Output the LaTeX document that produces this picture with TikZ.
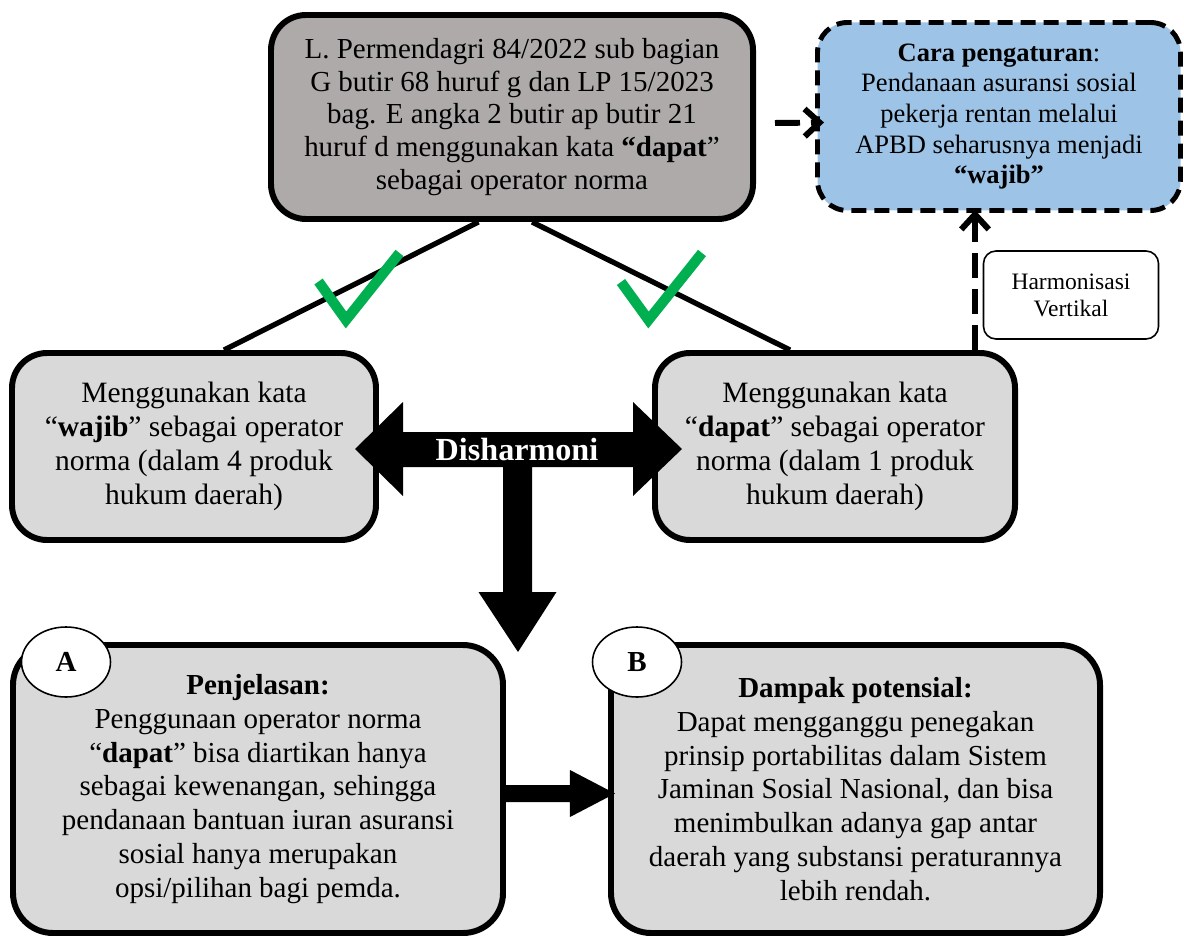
\documentclass[tikz,border=0pt]{standalone}
\usepackage{fontspec}
\setmainfont{Liberation Serif}
\usepackage{tikz}
\usetikzlibrary{positioning, arrows.meta, shapes.geometric}
\definecolor{normgray}{HTML}{AEAAAA}
\definecolor{boxgray}{HTML}{D9D9D9}
\definecolor{carablue}{HTML}{9DC3E6}
\definecolor{checkgreen}{HTML}{00B050}
\tikzset{
  normbox/.style={rectangle, draw, line width=3.4pt, rounded corners=0.7cm, align=center, inner sep=0pt},
  tagcircle/.style={ellipse, draw, fill=white, line width=0.9pt, minimum width=1.78cm, minimum height=1.4cm, inner sep=0pt, font=\fontsize{16.5}{20}\selectfont\bfseries},
  harmline/.style={line width=3.4pt, dash pattern=on 0.5cm off 0.22cm, -{Straight Barb[length=0.3cm, width=0.55cm]}},
  checkmark/.style={draw=checkgreen, line width=5.8pt, miter limit=10},
}

\begin{document}
\begin{tikzpicture}
    \useasboundingbox (0,0) rectangle (23.68,-18.74);

    \node (permen) at (10.24,-2.34) [normbox, fill=normgray, minimum width=9.64cm, minimum height=4.08cm, font=\fontsize{16.5}{18.6}\selectfont] {L. Permendagri 84/2022 sub bagian\\ G butir 68 huruf g dan LP 15/2023\\ bag. E angka 2 butir ap butir 21\\ huruf d menggunakan kata \textbf{“dapat}”\\ sebagai operator norma};
    \node (cara) at (19.98,-2.33) [normbox, fill=carablue, line width=2.8pt, dash pattern=on 0.3cm off 0.16cm, rounded corners=0.6cm, minimum width=7.26cm, minimum height=3.76cm, font=\fontsize{15.1}{17.4}\selectfont] {\textbf{Cara pengaturan}:\\ Pendanaan asuransi sosial\\ pekerja rentan melalui\\ APBD seharusnya menjadi\\ \textbf{“wajib”}};
    \node (harmon) at (21.42,-5.9) [rectangle, draw, line width=0.9pt, rounded corners=0.25cm, minimum width=3.5cm, minimum height=1.76cm, align=center, font=\fontsize{13.4}{15.4}\selectfont] {Harmonisasi\\ Vertikal};
    \node (wajib1) at (3.88,-8.93) [normbox, fill=boxgray, minimum width=7.28cm, minimum height=3.74cm, font=\fontsize{16.8}{19.4}\selectfont] {Menggunakan kata\\ “\textbf{wajib}” sebagai operator\\ norma (dalam 4 produk\\ hukum daerah)};
    \node (dapat1) at (16.7,-8.93) [normbox, fill=boxgray, minimum width=7.2cm, minimum height=3.74cm, font=\fontsize{16.8}{19.4}\selectfont] {Menggunakan kata\\ “\textbf{dapat}” sebagai operator\\ norma (dalam 1 produk\\ hukum daerah)};
    \node (penjelasan) at (5.16,-15.78) [normbox, fill=boxgray, rounded corners=0.8cm, minimum width=9.8cm, minimum height=5.76cm, font=\fontsize{16.5}{19.2}\selectfont] {\textbf{Penjelasan:}\\ Penggunaan operator norma\\ “\textbf{dapat}” bisa diartikan hanya\\ sebagai kewenangan, sehingga\\ pendanaan bantuan iuran asuransi\\ sosial hanya merupakan\\ opsi/pilihan bagi pemda.};
    \node (dampak) at (17.11,-15.78) [normbox, fill=boxgray, rounded corners=0.8cm, minimum width=9.78cm, minimum height=5.76cm, font=\fontsize{16.5}{19.2}\selectfont] {\textbf{Dampak potensial:}\\ Dapat mengganggu penegakan\\ prinsip portabilitas dalam Sistem\\ Jaminan Sosial Nasional, dan bisa\\ menimbulkan adanya gap antar\\ daerah yang substansi peraturannya\\ lebih rendah.};
    \node (tagA) at (1.32,-13.24) [tagcircle] {A};
    \node (tagB) at (12.74,-13.24) [tagcircle] {B};

    \draw[line width=3pt] ([xshift=-0.67cm]permen.south) -- ([xshift=0.6cm]wajib1.north);
    \draw[line width=3pt] ([xshift=0.4cm]permen.south) -- ([xshift=-0.9cm]dapat1.north);
    \draw[checkmark] (6.37,-5.63) -- (6.92,-6.4) -- (7.99,-5.06);
    \draw[checkmark] (12.42,-5.64) -- (12.97,-6.4) -- (14.04,-5.06);

    \draw[harmline] ([xshift=0.38cm,yshift=-0.12cm]permen.east) -- ([xshift=0.18cm,yshift=-0.12cm]cara.west);
    \coordinate (harmtop) at ([xshift=-0.48cm,yshift=0.06cm]cara.south);
    \draw[harmline] (harmtop |- dapat1.north) -- (harmtop);

    \coordinate (dis) at (10.34,-8.98);
    \fill[shift={(dis)}] (-3.24,0) -- (-2.28,0.94) -- (-2.28,0.34) -- (2.32,0.34) -- (2.32,0.94) -- (3.3,0)
        -- (2.32,-0.94) -- (2.32,-0.36) -- (0.3,-0.36) -- (0.3,-2.86) -- (0.79,-2.86) -- (0.02,-4.06)
        -- (-0.77,-2.86) -- (-0.28,-2.86) -- (-0.28,-0.36) -- (-2.28,-0.36) -- (-2.28,-0.94) -- cycle;
    \node (disharmoni) at (dis) [text=white, font=\fontsize{18.3}{20}\selectfont\bfseries] {Disharmoni};

    \coordinate (ab) at ([yshift=-0.09cm]penjelasan.east);
    \fill[shift={(ab)}] (0,0.17) -- (1.28,0.17) -- (1.28,0.47) -- (2.18,0) -- (1.28,-0.47) -- (1.28,-0.17) -- (0,-0.17) -- cycle;
\end{tikzpicture}
\end{document}
